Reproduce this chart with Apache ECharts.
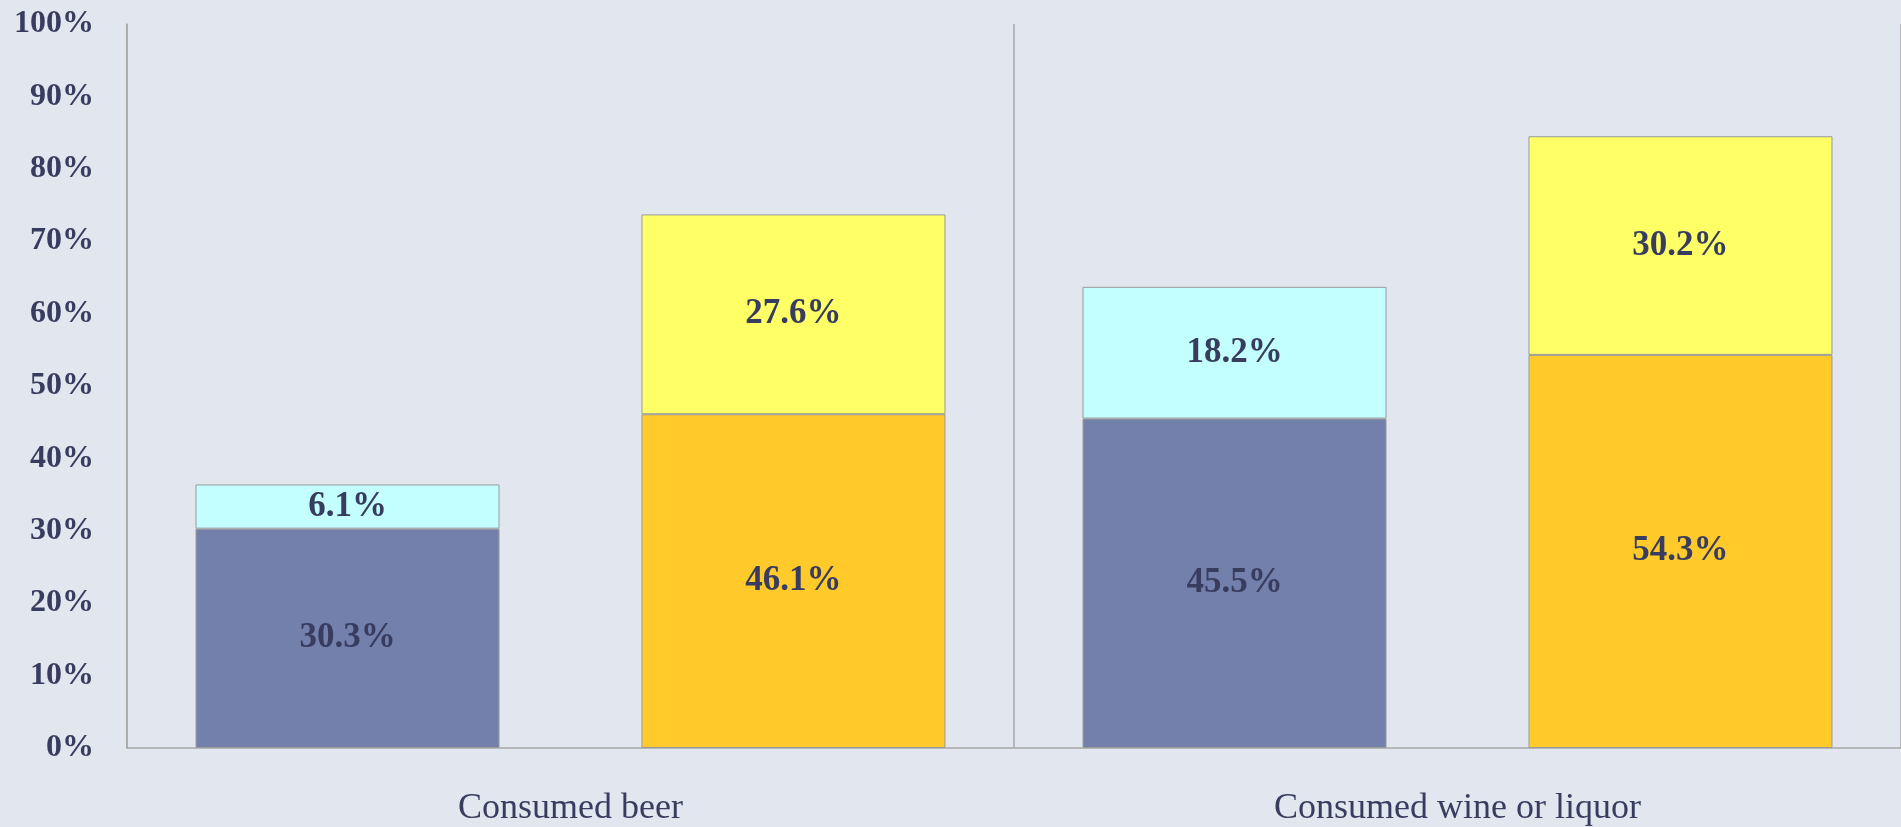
<!DOCTYPE html>
<html>
<head>
<meta charset="utf-8">
<script src="https://cdn.jsdelivr.net/npm/echarts@6/dist/echarts.min.js"></script>
<style>
  html, body { margin: 0; padding: 0; background: #E2E6EE; }
  #chart { width: 1901px; height: 827px; }
</style>
</head>
<body>
<div id="chart"></div>
<script>
const categories = ['Consumed beer', 'Consumed wine or liquor'];
const seriesNames = ['Group A (base)', 'Group A (added)', 'Group B (base)', 'Group B (added)'];
const groupABase = [30.3, 45.5];
const groupAAdded = [6.1, 18.2];
const groupBBase = [46.1, 54.3];
const groupBAdded = [27.6, 30.2];
const yTicks = [0, 10, 20, 30, 40, 50, 60, 70, 80, 90, 100];

const textColor = '#383D5F';
const serif = '"Liberation Serif", "DejaVu Serif", serif';

function barSeries(name, data, stack, color) {
  return {
    name: name,
    type: 'bar',
    stack: stack,
    data: data,
    barWidth: 304,
    barGap: '46.7%',
    itemStyle: { color: color, borderColor: '#9a9a9a', borderWidth: 1 },
    label: {
      show: true,
      position: 'inside',
      formatter: p => p.value.toFixed(1) + '%',
      color: textColor,
      fontFamily: serif,
      fontWeight: 'bold',
      fontSize: 35
    },
    emphasis: { disabled: true }
  };
}

const chart = echarts.init(document.getElementById('chart'));
chart.setOption({
  backgroundColor: '#E2E6EE',
  animation: false,
  grid: { left: 127, width: 1781, top: 24, bottom: 77, containLabel: false },
  xAxis: {
    type: 'category',
    data: categories,
    axisLine: { show: true, lineStyle: { color: '#a8a8a8', width: 1.5 } },
    axisTick: { show: false },
    splitLine: { show: true, interval: 0, lineStyle: { color: '#a8a8a8', width: 1.5 } },
    axisLabel: { color: textColor, fontFamily: serif, fontSize: 36, margin: 43 }
  },
  yAxis: {
    type: 'value',
    min: yTicks[0],
    max: yTicks[yTicks.length - 1],
    interval: yTicks[1] - yTicks[0],
    axisLine: { show: true, lineStyle: { color: '#a8a8a8', width: 1.5 } },
    axisTick: { show: false },
    splitLine: { show: false },
    axisLabel: {
      formatter: '{value}%',
      color: textColor,
      fontFamily: serif,
      fontWeight: 'bold',
      fontSize: 32,
      margin: 33
    }
  },
  series: [
    barSeries(seriesNames[0], groupABase, 'A', '#7480AC'),
    barSeries(seriesNames[1], groupAAdded, 'A', '#C4FFFF'),
    barSeries(seriesNames[2], groupBBase, 'B', '#FFCA2A'),
    barSeries(seriesNames[3], groupBAdded, 'B', '#FFFF66')
  ]
});
</script>
</body>
</html>
